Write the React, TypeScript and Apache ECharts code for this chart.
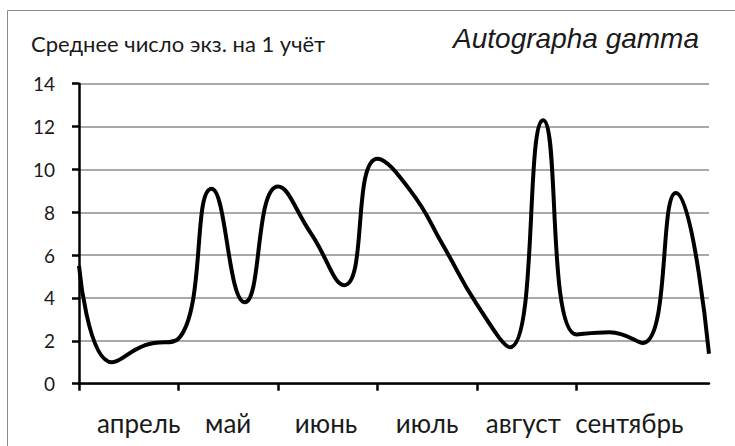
import React, { useEffect, useRef } from "react";
import * as echarts from "echarts";

const months = ["апрель", "май", "июнь", "июль", "август", "сентябрь"];
const decadeIndex = [0, 1, 2, 3, 4, 5, 6, 7, 8, 9, 10, 11, 12, 13, 14, 15, 16, 17, 18, 19];
const meanCount = [5.5, 1.0, 1.8, 2.1, 9.1, 3.8, 9.2, 7.0, 4.6, 10.5, 9.0, 6.4, 3.7, 1.7, 12.3, 2.3, 2.4, 1.9, 8.9, 1.4];
const yTicks = [0, 2, 4, 6, 8, 10, 12, 14];
const titleText = "Среднее число экз. на 1 учёт";
const speciesText = "Autographa gamma";

// small horizontal nudges of month labels (in decade units) to mimic the original placement
const labelNudge = [0.3, 0, -0.05, 0, -0.1, 0.1];

export default function App() {
  const ref = useRef<HTMLDivElement>(null);
  useEffect(() => {
    if (!ref.current) return;
    const chart = echarts.init(ref.current, null, { renderer: "svg" });
    const monthTicks = months.map((_, i) => i * 3);
    const labelValues = months.map((_, i) => i * 3 + 1.5 + labelNudge[i]);
    chart.setOption({
      animation: false,
      backgroundColor: "#ffffff",
      title: [
        {
          text: titleText,
          left: 31,
          top: 32,
          padding: 0,
          textStyle: { fontFamily: "Lato", fontSize: 22, fontWeight: "normal", color: "#1a1a1a" },
        },
        {
          text: speciesText,
          right: 36,
          top: 24,
          padding: 0,
          textStyle: { fontFamily: "Liberation Sans", fontSize: 28, fontStyle: "italic", fontWeight: "normal", color: "#1a1a1a" },
        },
      ],
      graphic: [
        {
          type: "rect",
          shape: { x: 7.5, y: 10.5, width: 760, height: 460 },
          style: { fill: "none", stroke: "#8c8c8c", lineWidth: 1 },
          silent: true,
        },
      ],
      grid: { left: 79, right: 26, top: 83.7, bottom: 62.3, containLabel: false },
      xAxis: {
        type: "value",
        min: 0,
        max: decadeIndex[decadeIndex.length - 1],
        axisLine: { show: true, onZero: false, lineStyle: { color: "#000", width: 2.5 } },
        axisTick: { show: true, customValues: monthTicks, length: 7, lineStyle: { color: "#000", width: 2.5 } },
        axisLabel: {
          customValues: labelValues,
          formatter: (v: number) => months[Math.floor(v / 3)] ?? "",
          fontFamily: "Lato",
          fontSize: 26,
          color: "#1a1a1a",
          margin: 26,
        },
        splitLine: { show: false },
      },
      yAxis: {
        type: "value",
        min: yTicks[0],
        max: yTicks[yTicks.length - 1],
        interval: 2,
        axisLine: { show: true, lineStyle: { color: "#000", width: 2.5 } },
        axisTick: { show: true, length: 7, lineStyle: { color: "#000", width: 2.5 } },
        axisLabel: { fontFamily: "Lato", fontSize: 19, color: "#1a1a1a", margin: 24 },
        splitLine: { show: true, lineStyle: { color: "#8c8c8c", width: 1.5 } },
      },
      series: [
        {
          type: "line",
          data: decadeIndex.map((x, i) => [x, meanCount[i]]),
          smooth: 0.5,
          symbol: "none",
          lineStyle: { color: "#000", width: 4 },
        },
      ],
    });
    return () => chart.dispose();
  }, []);
  return <div ref={ref} style={{ position: "fixed", left: 0, top: 0, width: 735, height: 446 }} />;
}
